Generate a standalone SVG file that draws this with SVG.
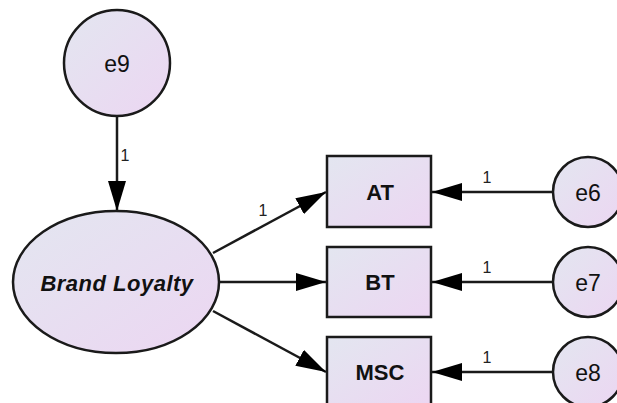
<svg xmlns="http://www.w3.org/2000/svg" width="617" height="403" viewBox="0 0 617 403">
<defs>
<linearGradient id="g" x1="0" y1="0" x2="1" y2="1">
<stop offset="0" stop-color="#e3e6f0"/>
<stop offset="1" stop-color="#ecd6f2"/>
</linearGradient>
<marker id="arr" markerUnits="userSpaceOnUse" markerWidth="30" markerHeight="18" refX="30" refY="9" orient="auto">
<path d="M0,0 L30,9 L0,18 Z" fill="#000"/>
</marker>
<style>
.n{fill:url(#g);stroke:#1a1a1a;stroke-width:2.5}
.t{font-family:"Liberation Sans",Arial,sans-serif;fill:#111;text-anchor:middle;dominant-baseline:central}
.b{font-weight:bold;font-size:22px}
.e{font-size:23px}
.l{font-family:"Liberation Sans",Arial,sans-serif;font-size:16px;fill:#222;text-anchor:middle}
.c{stroke:#1a1a1a;stroke-width:2.5;fill:none;marker-end:url(#arr)}
</style>
</defs>
<rect width="617" height="403" fill="#fff"/>
<g id="connectors">
<line class="c" x1="117" y1="116" x2="117" y2="211"/>
<line class="c" x1="213" y1="253" x2="326" y2="192"/>
<line class="c" x1="220" y1="282" x2="326" y2="282"/>
<line class="c" x1="213" y1="311" x2="326" y2="372"/>
<line class="c" x1="553" y1="192" x2="432" y2="192"/>
<line class="c" x1="553" y1="282" x2="432" y2="282"/>
<line class="c" x1="553" y1="372" x2="432" y2="372"/>
<text class="l" x="125" y="161">1</text>
<text class="l" x="263" y="216">1</text>
<text class="l" x="487" y="183">1</text>
<text class="l" x="487" y="273">1</text>
<text class="l" x="487" y="363">1</text>
</g>
<g id="e9"><circle class="n" cx="117" cy="63" r="53"/><text class="t e" x="117" y="64">e9</text></g>
<g id="brand_loyalty"><ellipse class="n" cx="116" cy="282" rx="103" ry="71"/><text class="t b" x="117" y="283" font-style="italic" letter-spacing="0.5">Brand Loyalty</text></g>
<g id="AT"><rect class="n" x="327" y="156" width="104" height="71"/><text class="t b" x="380" y="192">AT</text></g>
<g id="BT"><rect class="n" x="327" y="247" width="104" height="70"/><text class="t b" x="380" y="282">BT</text></g>
<g id="MSC"><rect class="n" x="327" y="337" width="104" height="70"/><text class="t b" x="380" y="372">MSC</text></g>
<g id="e6"><circle class="n" cx="588" cy="192" r="35"/><text class="t e" x="588" y="193">e6</text></g>
<g id="e7"><circle class="n" cx="588" cy="282" r="35"/><text class="t e" x="588" y="283">e7</text></g>
<g id="e8"><circle class="n" cx="588" cy="372" r="35"/><text class="t e" x="588" y="373">e8</text></g>
</svg>
